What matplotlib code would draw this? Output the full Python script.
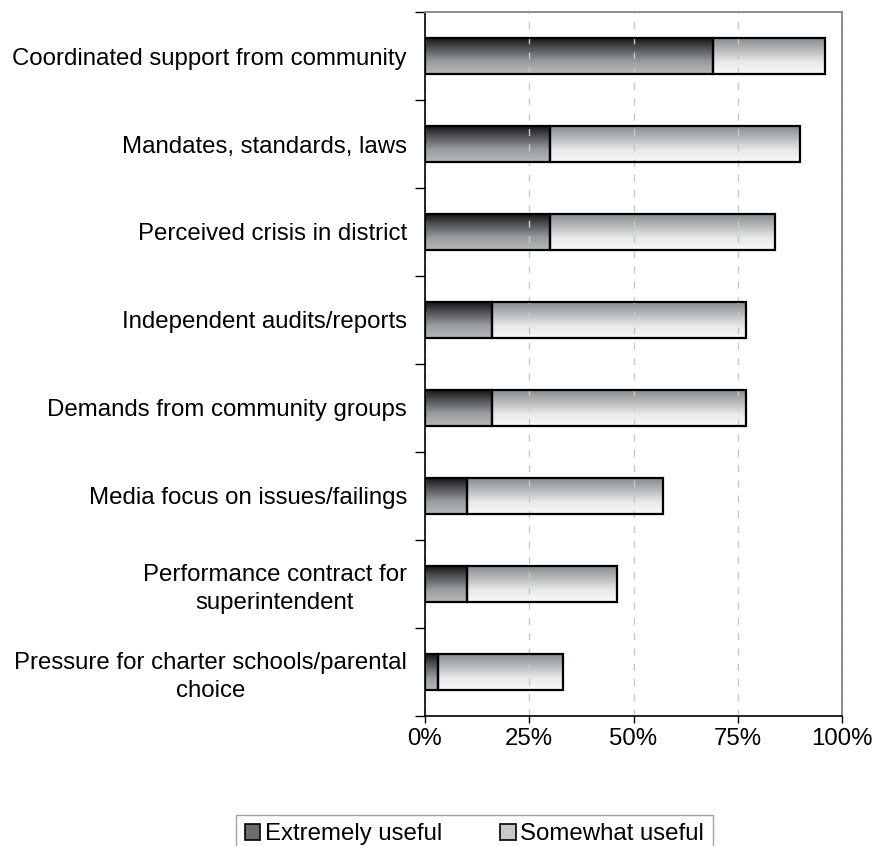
import numpy as np
import matplotlib.pyplot as plt
from matplotlib.colors import LinearSegmentedColormap
from matplotlib.patches import Patch

plt.rcParams['font.family'] = ['Liberation Sans', 'DejaVu Sans']

# ===================== ДАННЫЕ =====================
categories = [
    'Coordinated support from community',
    'Mandates, standards, laws',
    'Perceived crisis in district',
    'Independent audits/reports',
    'Demands from community groups',
    'Media focus on issues/failings',
    'Performance contract for\nsuperintendent',
    'Pressure for charter schools/parental\nchoice',
]
extremely = [69, 30, 30, 16, 16, 10, 10, 3]
somewhat = [27, 60, 54, 61, 61, 47, 36, 30]
series_names = ['Extremely useful', 'Somewhat useful']
xticks = [0, 25, 50, 75, 100]

FS = 17.3

# градиенты заливки (сверху вниз)
cmap_dark = LinearSegmentedColormap.from_list('dark', ['#141414', '#5a5e60', '#9a9ea0', '#b6babc'])
cmap_light = LinearSegmentedColormap.from_list('light', ['#878b8d', '#b8bbbd', '#e8e8e8', '#fafafa'])

fig = plt.figure(figsize=(8.77, 8.46), dpi=100)
ax = fig.add_axes([0.4846, 0.1537, 0.4755, 0.8321])

y = np.arange(len(categories))
bars1 = ax.barh(y, extremely, height=0.4, facecolor='none', edgecolor='black', linewidth=1.6, zorder=3)
bars2 = ax.barh(y, somewhat, left=extremely, height=0.4, facecolor='none', edgecolor='black',
                linewidth=1.6, zorder=3)

grad = np.linspace(0, 1, 256).reshape(-1, 1)
for bars, cmap in [(bars1, cmap_dark), (bars2, cmap_light)]:
    for b in bars:
        x0, y0, w, h = b.get_x(), b.get_y(), b.get_width(), b.get_height()
        # ось y инвертирована: верх бара = y0
        ax.imshow(grad, cmap=cmap, aspect='auto', extent=(x0, x0 + w, y0 + h, y0),
                  interpolation='bilinear', zorder=1)

ax.set_xlim(0, 100)
ax.set_ylim(len(categories) - 0.5, -0.5)

ax.set_xticks(xticks)
ax.set_xticklabels([f'{t}%' for t in xticks], fontsize=FS)
ax.tick_params(axis='x', length=5, width=1, pad=4, color='black')

ax.set_yticks(y)
ax.set_yticklabels(categories, fontsize=FS, multialignment='center', linespacing=1.3)
ax.tick_params(axis='y', which='major', length=0, pad=13)
ax.set_yticks(np.arange(len(categories) + 1) - 0.5, minor=True)
ax.tick_params(axis='y', which='minor', length=7, width=1, color='black')

ax.set_axisbelow(False)
ax.grid(axis='x', linestyle=(0, (5, 6)), color='#c8c8c8', linewidth=1)
ax.grid(axis='y', visible=False)

for side in ['top', 'right']:
    ax.spines[side].set_color('#8c8c8c')
    ax.spines[side].set_linewidth(1.4)
for side in ['left', 'bottom']:
    ax.spines[side].set_color('black')
    ax.spines[side].set_linewidth(1.2)
for sp in ax.spines.values():
    sp.set_zorder(4)

handles = [Patch(facecolor='#6a6e70', edgecolor='black', linewidth=1.2),
           Patch(facecolor='#c8cacc', edgecolor='black', linewidth=1.2)]
leg = fig.legend(handles, series_names, loc='upper center', bbox_to_anchor=(0.541, 0.037),
                 ncol=2, fontsize=FS, frameon=True, fancybox=False, edgecolor='#8c8c8c',
                 handlelength=0.65, handleheight=0.65, handletextpad=0.2, columnspacing=2.4,
                 borderpad=0.35, borderaxespad=0)
leg.get_frame().set_linewidth(1.0)

plt.savefig('out.png', dpi=100)
